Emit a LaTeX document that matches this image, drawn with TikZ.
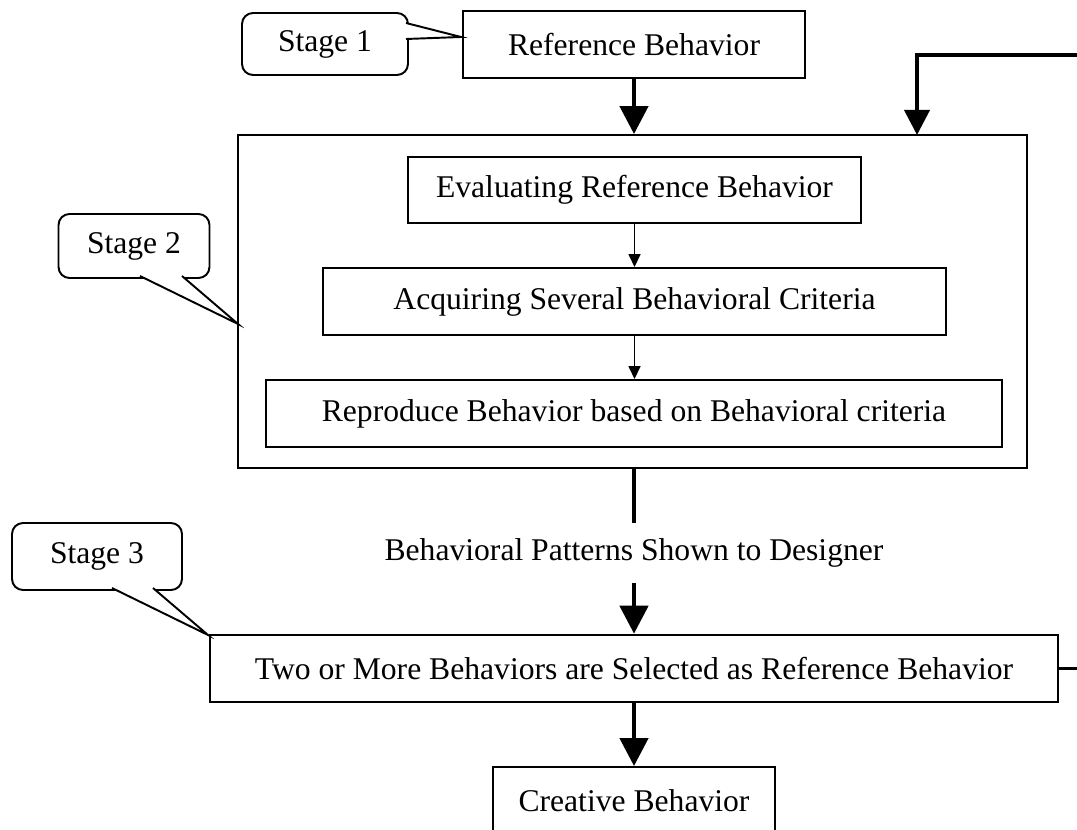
\documentclass[tikz,border=0pt]{standalone}
\usepackage{fontspec}
\setmainfont{Liberation Serif}
\usetikzlibrary{arrows.meta}

\tikzset{
  box/.style={draw,line width=1.1pt,inner sep=0pt,minimum height=1.34cm},
  stagebox/.style={draw,fill=white,rounded corners=0.22cm,line width=1.1pt,inner sep=0pt},
  bigarrow/.style={line width=2.6pt,-{Triangle[width=0.56cm,length=0.56cm]}},
  bigline/.style={line width=2.6pt},
  thinarrow/.style={line width=0.9pt,-{Triangle[width=0.24cm,length=0.26cm]}},
  pointer/.style={line width=1.1pt}
}

\begin{document}
\begin{tikzpicture}[x=0.02cm,y=-0.02cm,font=\fontsize{18}{21.6}\selectfont]
	\useasboundingbox (0,0) rectangle (1077,830);
	% main boxes
	\node[box,minimum width=6.84cm] (ref) at (634,44.5) {Reference Behavior};
	\node[draw,line width=1.1pt,minimum width=15.78cm,minimum height=6.66cm] (stagetwo) at (632.5,301.5) {};
	\node[box,minimum width=9.06cm,minimum height=1.32cm] (eval) at (634.5,190) {Evaluating Reference Behavior};
	\node[box,minimum width=12.46cm] (acq) at (634.5,301.5) {Acquiring Several Behavioral Criteria};
	\node[box,minimum width=14.72cm] (repr) at (634,413.5) {Reproduce Behavior based on Behavioral criteria};
	\node[inner sep=0pt,minimum height=1.2cm] (patterns) at (634,553) {Behavioral Patterns Shown to Designer};
	\node[box,line width=1.5pt,minimum width=16.96cm] (sel) at (634,668.5) {Two or More Behaviors are Selected as Reference Behavior};
	\node[box,minimum width=5.64cm] (creative) at (634,800.5) {Creative Behavior};
	% arrows
	\draw[bigarrow] (ref.south) -- (ref.south |- stagetwo.north);
	\draw[thinarrow] (eval.south) -- (eval.south |- acq.north);
	\draw[thinarrow] (acq.south -| eval.south) -- (eval.south |- repr.north);
	\draw[bigline] (patterns.north |- stagetwo.south) -- (patterns.north);
	\draw[bigarrow] (patterns.south) -- (sel.north -| patterns.south);
	\draw[bigarrow] (sel.south) -- (sel.south |- creative.north);
	% feedback loop
	\coordinate (fbtop) at (917,55);
	\coordinate (fbin) at (917,135);
	\draw[bigline,line width=2.2pt,-{Triangle[width=0.5cm,length=0.5cm]}] (sel.east) -- ++(45,0) |- (fbtop) -- (fbin);
	% stage callouts
	\node[stagebox,minimum width=3.32cm,minimum height=1.24cm] (s1) at (325,44) {Stage 1};
	\node[stagebox,minimum width=3.02cm,minimum height=1.28cm] (s2) at (134,246) {Stage 2};
	\node[stagebox,minimum width=3.4cm,minimum height=1.34cm] (s3) at (97,556.5) {Stage 3};
	\coordinate (s1a) at (406,23);
	\coordinate (s1b) at (406,39);
	\coordinate (s1tip) at (461,37);
	\coordinate (s2a) at (140,276);
	\coordinate (s2b) at (182,276);
	\coordinate (s2tip) at (238,324);
	\coordinate (s3a) at (112,588);
	\coordinate (s3b) at (153,588);
	\coordinate (s3tip) at (208,635);
	\fill[white] (s1a) -- (s1tip) -- (s1b) -- cycle;
	\draw[pointer] (s1a) -- (s1tip) -- (s1b);
	\fill[white] (s2a) -- (s2tip) -- (s2b) -- cycle;
	\draw[pointer] (s2a) -- (s2tip) -- (s2b);
	\fill[white] (s3a) -- (s3tip) -- (s3b) -- cycle;
	\draw[pointer] (s3a) -- (s3tip) -- (s3b);
\end{tikzpicture}
\end{document}
